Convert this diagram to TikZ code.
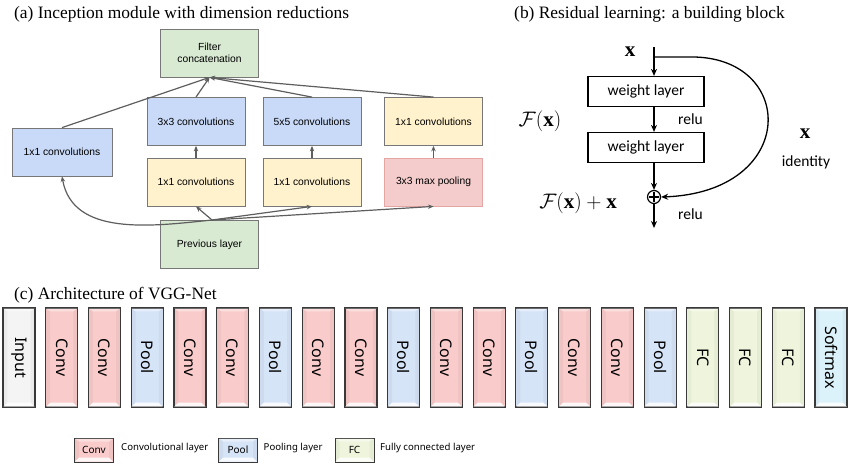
\RequirePackage{fix-cm}
\documentclass[tikz,border=0pt]{standalone}
\usepackage{fontspec}
\setmainfont{Liberation Serif}
\newfontfamily\arialf{Liberation Sans}
\newfontfamily\calf{Carlito}
\newfontfamily\vggf{Noto Sans}
\usetikzlibrary{arrows.meta,calc}
\definecolor{incgreen}{HTML}{D9EAD3}
\definecolor{incblue}{HTML}{C9DAF8}
\definecolor{incyellow}{HTML}{FFF2CC}
\definecolor{incpink}{HTML}{F4CCCC}
\definecolor{pinkborder}{HTML}{E4A5A5}
\definecolor{incborder}{HTML}{777777}
\definecolor{incarrow}{HTML}{5E5E5E}
\definecolor{inpc}{HTML}{F4F4F4}
\definecolor{convc}{HTML}{F9CBCB}
\definecolor{poolc}{HTML}{D6E4F8}
\definecolor{fcc}{HTML}{EEF5DC}
\definecolor{smc}{HTML}{DCF2FA}
\definecolor{vggborder}{HTML}{3A3A3A}
\newcommand\bevelbox[1]{%
  \fill[white,opacity=.85] ($(#1.south west)+(1,-1)$) -- ($(#1.south east)+(-1,-1)$) -- ($(#1.south east)+(-5,-5)$) -- ($(#1.south west)+(5,-5)$) -- cycle;
  \fill[white,opacity=.4] ($(#1.north west)+(1,1)$) -- ($(#1.north east)+(-1,1)$) -- ($(#1.north east)+(-5,4)$) -- ($(#1.north west)+(5,4)$) -- cycle;
  \fill[black,opacity=.035] ($(#1.north west)+(1,1)$) -- ($(#1.north west)+(5,4)$) -- ($(#1.south west)+(5,-5)$) -- ($(#1.south west)+(1,-1)$) -- cycle;
  \fill[black,opacity=.035] ($(#1.north east)+(-1,1)$) -- ($(#1.north east)+(-5,4)$) -- ($(#1.south east)+(-5,-5)$) -- ($(#1.south east)+(-1,-1)$) -- cycle;
}
\tikzset{
  title/.style={anchor=base west, inner sep=0pt, font=\fontsize{17.4}{17}\selectfont},
  incbox/.style={draw=incborder, line width=0.8pt, minimum width=98pt, minimum height=48pt,
    font=\arialf\fontsize{10.3}{12.5}\selectfont, align=center, inner sep=0pt},
  incarr/.style={draw=incarrow, line width=1.2pt, -{Stealth[length=5.5pt,width=4.5pt]}},
  wbox/.style={draw, line width=1.2pt, minimum width=116pt, minimum height=30pt, inner sep=0pt,
    font=\calf\fontsize{15.5}{16}\selectfont},
  resarr/.style={line width=1.3pt, -{Stealth[length=7pt,width=6pt]}},
  reslab/.style={inner sep=0pt, font=\calf\fontsize{15.5}{16}\selectfont},
  mathlab/.style={inner sep=0pt, font=\fontsize{21}{21}\selectfont},
  vgg/.style={draw=vggborder, line width=1.2pt, minimum width=32pt, minimum height=99pt, inner sep=0pt},
  vggtxt/.style={rotate=-90, inner sep=0pt, font=\vggf\fontsize{16}{16}\selectfont},
  leg/.style={draw=vggborder, line width=1pt, minimum width=39pt, minimum height=24pt, inner sep=0pt,
    font=\vggf\fontsize{10}{10}\selectfont},
  legtxt/.style={anchor=west, inner sep=0pt, font=\vggf\fontsize{9.6}{10}\selectfont}
}
\begin{document}
\begin{tikzpicture}[x=1pt,y=-1pt]
\useasboundingbox[fill=white] (0,0) rectangle (850,464);
% ---------- (a) ----------
\node[title] (ta) at (14,18.5) {(a) Inception module with dimension reductions};
\node[incbox, fill=incgreen] (filt) at (209.5,53) {Filter\\concatenation};
\node[incbox, fill=incblue, minimum width=100pt] (c1) at (62,152) {1x1 convolutions};
\node[incbox, fill=incblue] (c3) at (196,121.5) {3x3 convolutions};
\node[incbox, fill=incblue] (c5) at (312,121.5) {5x5 convolutions};
\node[incbox, fill=incyellow] (pc) at (433.5,121.5) {1x1 convolutions};
\node[incbox, fill=incyellow] (r3) at (196,182) {1x1 convolutions};
\node[incbox, fill=incyellow] (r5) at (312,182) {1x1 convolutions};
\node[incbox, fill=incpink, draw=pinkborder] (mp) at (433.5,182) {3x3 max pooling};
\node[incbox, fill=incgreen] (prev) at (209.5,244.5) {Previous layer};
\coordinate (fan) at (212,220);
\draw[incarr] (fan) to[out=186,in=-80] (c1.south);
\draw[incarr] (fan) -- (r3.south);
\draw[incarr] (fan) -- (r5.south);
\draw[incarr] (fan) -- (mp.south);
\draw[incarr] (r3) -- (c3);
\draw[incarr] (r5) -- (c5);
\draw[incarr] (mp) -- (pc);
\draw[incarr] (c1.north) -- (filt.south);
\draw[incarr] (c3.north) -- (filt.south);
\draw[incarr] (c5.north) -- (filt.south);
\draw[incarr] (pc.north) -- (filt.south);
% ---------- (b) ----------
\node[title] (tb) at (514,18.5) {(b) Residual learning: a building block};
\node[mathlab] (xin) at (630,52) {$\mathbf{x}$};
\node[wbox] (w1) at (646,91.5) {weight layer};
\node[wbox] (w2) at (646,147.5) {weight layer};
\node[circle, draw, line width=1.2pt, minimum size=13pt, inner sep=0pt] (plus) at (654,197) {};
\draw[line width=1.1pt] ($(plus.north)+(0,2.5)$) -- ($(plus.south)+(0,-2.5)$);
\draw[line width=1.1pt] ($(plus.west)+(2.5,0)$) -- ($(plus.east)+(-2.5,0)$);
\coordinate (xtop) at (654,47);
\coordinate (idstart) at (654,57);
\coordinate (out) at (654,228);
\draw[resarr] (xtop) -- (xtop |- w1.north);
\draw[resarr] (w1.south -| xtop) -- (w2.north -| xtop);
\draw[resarr] (w2.south -| xtop) -- (plus.north);
\draw[resarr] (plus.south) -- (out);
\draw[resarr] (idstart) -- (695,57) .. controls (797,60) and (797,192) .. (plus.east);
\node[reslab, anchor=west] (relu1) at (678,119) {relu};
\node[reslab, anchor=west] (relu2) at (678,214) {relu};
\node[mathlab] (fx) at (540,121) {$\mathcal{F}(\mathbf{x})$};
\node[mathlab] (fxx) at (578,203) {$\mathcal{F}(\mathbf{x})+\mathbf{x}$};
\node[mathlab] (xid) at (805,134) {$\mathbf{x}$};
\node[reslab] (idl) at (806,162) {identity};
% ---------- (c) ----------
\node[title] (tc) at (14,299) {(c) Architecture of VGG-Net};
\foreach \i/\lab/\col in {0/Input/inpc,1/Conv/convc,2/Conv/convc,3/Pool/poolc,4/Conv/convc,5/Conv/convc,
  6/Pool/poolc,7/Conv/convc,8/Conv/convc,9/Pool/poolc,10/Conv/convc,11/Conv/convc,12/Pool/poolc,
  13/Conv/convc,14/Conv/convc,15/Pool/poolc,16/FC/fcc,17/FC/fcc,18/FC/fcc,19/Softmax/smc}{
  \node[vgg, fill=\col] (v\i) at ({19+\i*42.74},357.5) {};
  \bevelbox{v\i}
  \node[vggtxt] (vt\i) at (v\i) {\lab};
}
% legend
\node[leg, fill=convc] (lc) at (94,450) {};
\bevelbox{lc}
\node[font=\vggf\fontsize{10}{10}\selectfont, inner sep=0pt] (lct) at (lc) {Conv};
\node[legtxt] (lctx) at (121,448) {Convolutional layer};
\node[leg, fill=poolc] (lp) at (238,450) {};
\bevelbox{lp}
\node[font=\vggf\fontsize{10}{10}\selectfont, inner sep=0pt] (lpt) at (lp) {Pool};
\node[legtxt] (lptx) at (263.5,448) {Pooling layer};
\node[leg, fill=fcc] (lf) at (354.5,450) {};
\bevelbox{lf}
\node[font=\vggf\fontsize{10}{10}\selectfont, inner sep=0pt] (lft) at (lf) {FC};
\node[legtxt] (lftx) at (380,448) {Fully connected layer};
\end{tikzpicture}
\end{document}
